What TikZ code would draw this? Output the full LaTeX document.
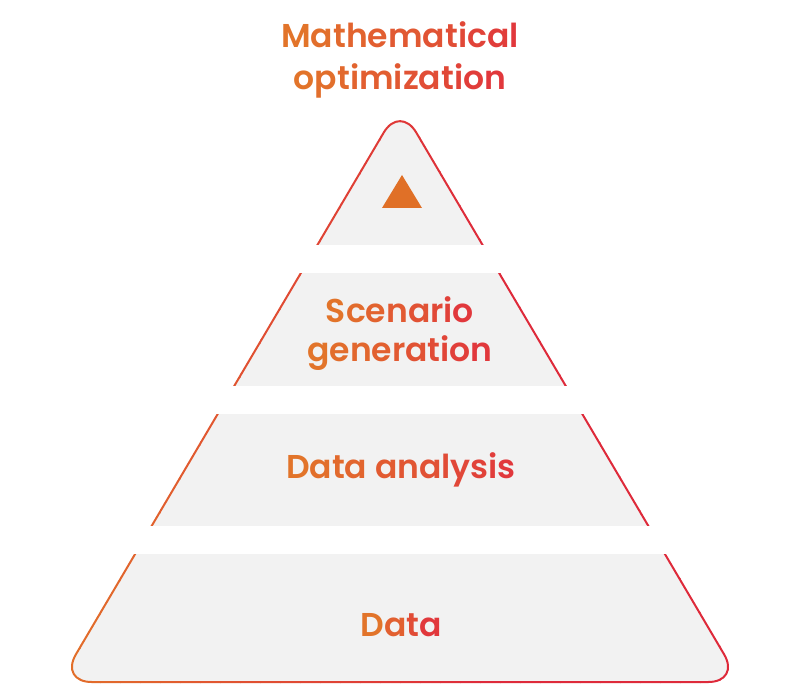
\documentclass[tikz,border=0pt]{standalone}
\usepackage{fontspec}
\setmainfont{Poppins}[BoldFont={Poppins SemiBold}]
\definecolor{oL}{HTML}{E2702A}
\definecolor{oR}{HTML}{DE2A3A}
\definecolor{gO}{HTML}{E2742A}
\definecolor{gR}{HTML}{E1383C}
\definecolor{pgray}{HTML}{F2F2F2}
\definecolor{tri}{HTML}{E07027}

\ExplSyntaxOn
\int_new:N \l_gt_n_int
\int_new:N \l_gt_i_int
\tl_new:N \l_gt_col_tl
\NewDocumentCommand\gradtext{m}
 {
  \int_set:Nn \l_gt_n_int { \str_count:n {#1} }
  \int_zero:N \l_gt_i_int
  \str_map_inline:nn {#1}
   {
    \int_incr:N \l_gt_i_int
    \str_if_eq:nnTF {##1} {~}
     { \c_space_tl }
     {
      \tl_set:Nx \l_gt_col_tl
       { gR!\int_eval:n { 100 * (\l_gt_i_int - 1) / \int_max:nn {1} {\l_gt_n_int - 1} }!gO }
      \exp_args:NV \color \l_gt_col_tl
      ##1
     }
   }
 }
\ExplSyntaxOff

\tikzset{
  lbl/.style={font=\fontsize{33}{39}\selectfont\bfseries, inner sep=0pt, anchor=base},
  gap/.style={fill=white, draw=none},
}

\begin{document}
\begin{tikzpicture}[x=1pt,y=-1pt]
\useasboundingbox (0,0) rectangle (800,700);
\def\pyr{(400,682) -- (59.6,682) -- (400,105) -- (740.4,682) -- cycle}
% fill
\fill[pgray, rounded corners=32pt] \pyr;
% gradient outline via vertical strips
\foreach \i in {0,...,37}{
  \pgfmathsetmacro{\xa}{40+20*\i}
  \pgfmathsetmacro{\xb}{\xa+20.6}
  \pgfmathsetmacro{\pc}{max(0,min(100,(\xa+10-60)/420*100))}
  \begin{scope}
    \clip (\xa,0) rectangle (\xb,700);
    \draw[oR!\pc!oL, line width=2pt, rounded corners=32pt] \pyr;
  \end{scope}
}
% gaps
\fill[gap] (0,245) rectangle (800,273);
\fill[gap] (0,386) rectangle (800,414);
\fill[gap] (0,526) rectangle (800,554);
% icon
\fill[tri] (402,175) -- (422,208) -- (382,208) -- cycle;
% labels
\node[lbl] (title1) at (400,48) {\gradtext{Mathematical}};
\node[lbl] (title2) at (400,90) {\gradtext{optimization}};
\node[lbl] (scen1) at (400,323) {\gradtext{Scenario}};
\node[lbl] (scen2) at (400,362) {\gradtext{generation}};
\node[lbl] (anal) at (401,478) {\gradtext{Data analysis}};
\node[lbl] (data) at (401.5,636) {\gradtext{Data}};
\end{tikzpicture}
\end{document}
